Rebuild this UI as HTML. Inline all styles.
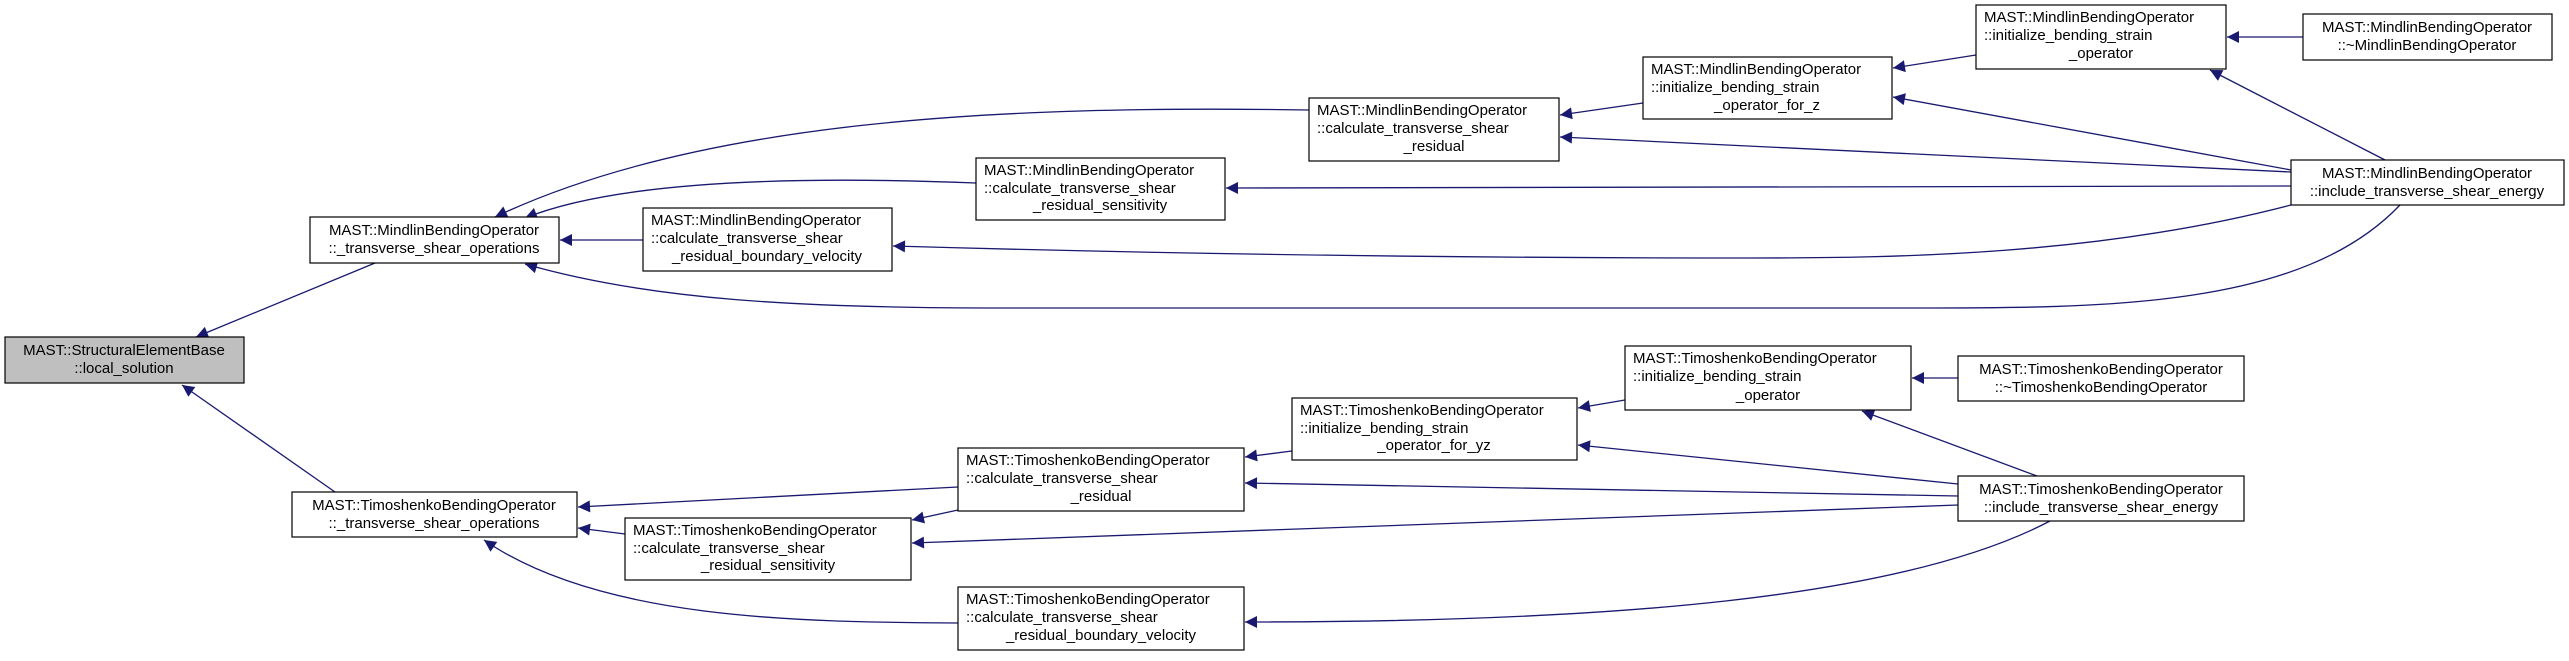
<!DOCTYPE html>
<html><head><meta charset="utf-8"><style>
html,body{margin:0;padding:0;background:#fff}
svg text{font-family:"Liberation Sans",Arial,sans-serif;font-size:15px;fill:#000}
</style></head><body>
<svg width="2569" height="656" viewBox="0 0 2569 656" xmlns="http://www.w3.org/2000/svg">
<defs>
<marker id="b" viewBox="0 0 10 10" refX="10" refY="5" markerWidth="16" markerHeight="12" markerUnits="userSpaceOnUse" orient="auto"><path d="M0,0L10,5L0,10z" fill="#191970"/></marker></defs>
<g fill="none" stroke="#191970" stroke-width="1.3" marker-end="url(#b)">
<path d="M375,263L196,337"/>
<path d="M335,492L182,385"/>
<path d="M1309,110C1000,105 700,120 495,217"/>
<path d="M976,183C800,176 620,180 525,218"/>
<path d="M643,240L560,240"/>
<path d="M2400,205C2300,310 2100,308 1900,308L1000,308C800,308 650,300 525,264"/>
<path d="M1643,103L1560,115"/>
<path d="M2291,172L1560,137"/>
<path d="M2291,186L1226,188"/>
<path d="M2291,205C2100,255 1900,258 1750,258C1400,258 1100,252 893,246"/>
<path d="M1976,55L1893,68"/>
<path d="M2291,170L1893,97"/>
<path d="M2385,160L2210,70"/>
<path d="M2303,37L2227,37"/>
<path d="M958,487L578,507"/>
<path d="M625,534L578,528"/>
<path d="M958,623C800,622 600,620 484,540"/>
<path d="M958,510L912,520"/>
<path d="M1292,451L1245,457"/>
<path d="M1958,496L1245,483"/>
<path d="M1958,505L912,543"/>
<path d="M2050,521C1900,600 1600,622 1245,622"/>
<path d="M1625,400L1578,408"/>
<path d="M1958,484L1578,445"/>
<path d="M2037,476L1862,411"/>
<path d="M1958,378L1912,378"/>
</g>
<g stroke="#000" stroke-width="1.2" fill="#fff">
<rect x="5" y="337" width="239" height="46" fill="#bfbfbf"/>
<rect x="310" y="217" width="249" height="46"/>
<rect x="292" y="492" width="285" height="45"/>
<rect x="1309" y="98" width="250" height="63"/>
<rect x="1643" y="57" width="249" height="62"/>
<rect x="1976" y="5" width="250" height="64"/>
<rect x="2303" y="14" width="249" height="46"/>
<rect x="2291" y="160" width="273" height="45"/>
<rect x="976" y="158" width="249" height="62"/>
<rect x="643" y="208" width="249" height="63"/>
<rect x="958" y="448" width="286" height="63"/>
<rect x="625" y="518" width="286" height="62"/>
<rect x="958" y="587" width="286" height="63"/>
<rect x="1292" y="398" width="285" height="62"/>
<rect x="1625" y="346" width="286" height="64"/>
<rect x="1958" y="356" width="286" height="45"/>
<rect x="1958" y="476" width="286" height="45"/>
</g>
<g text-anchor="middle">
<text x="124" y="355">MAST::StructuralElementBase</text><text x="124" y="373">::local_solution</text>
<text x="434" y="235">MAST::MindlinBendingOperator</text><text x="434" y="253">::_transverse_shear_operations</text>
<text x="434" y="510">MAST::TimoshenkoBendingOperator</text><text x="434" y="528">::_transverse_shear_operations</text>
<text x="2427" y="32">MAST::MindlinBendingOperator</text><text x="2427" y="50">::~MindlinBendingOperator</text>
<text x="2427" y="178">MAST::MindlinBendingOperator</text><text x="2427" y="196">::include_transverse_shear_energy</text>
<text x="2101" y="374">MAST::TimoshenkoBendingOperator</text><text x="2101" y="392">::~TimoshenkoBendingOperator</text>
<text x="2101" y="494">MAST::TimoshenkoBendingOperator</text><text x="2101" y="512">::include_transverse_shear_energy</text>
<text x="1434" y="151">_residual</text>
<text x="1767" y="110">_operator_for_z</text>
<text x="2101" y="58">_operator</text>
<text x="1100" y="210">_residual_sensitivity</text>
<text x="767" y="261">_residual_boundary_velocity</text>
<text x="1101" y="501">_residual</text>
<text x="768" y="570">_residual_sensitivity</text>
<text x="1101" y="640">_residual_boundary_velocity</text>
<text x="1434" y="450">_operator_for_yz</text>
<text x="1768" y="400">_operator</text>
</g>
<g>
<text x="1317" y="115">MAST::MindlinBendingOperator</text><text x="1317" y="133">::calculate_transverse_shear</text>
<text x="1651" y="74">MAST::MindlinBendingOperator</text><text x="1651" y="92">::initialize_bending_strain</text>
<text x="1984" y="22">MAST::MindlinBendingOperator</text><text x="1984" y="40">::initialize_bending_strain</text>
<text x="984" y="175">MAST::MindlinBendingOperator</text><text x="984" y="193">::calculate_transverse_shear</text>
<text x="651" y="225">MAST::MindlinBendingOperator</text><text x="651" y="243">::calculate_transverse_shear</text>
<text x="966" y="465">MAST::TimoshenkoBendingOperator</text><text x="966" y="483">::calculate_transverse_shear</text>
<text x="633" y="535">MAST::TimoshenkoBendingOperator</text><text x="633" y="553">::calculate_transverse_shear</text>
<text x="966" y="604">MAST::TimoshenkoBendingOperator</text><text x="966" y="622">::calculate_transverse_shear</text>
<text x="1300" y="415">MAST::TimoshenkoBendingOperator</text><text x="1300" y="433">::initialize_bending_strain</text>
<text x="1633" y="363">MAST::TimoshenkoBendingOperator</text><text x="1633" y="381">::initialize_bending_strain</text>
</g>
</svg>
</body></html>
